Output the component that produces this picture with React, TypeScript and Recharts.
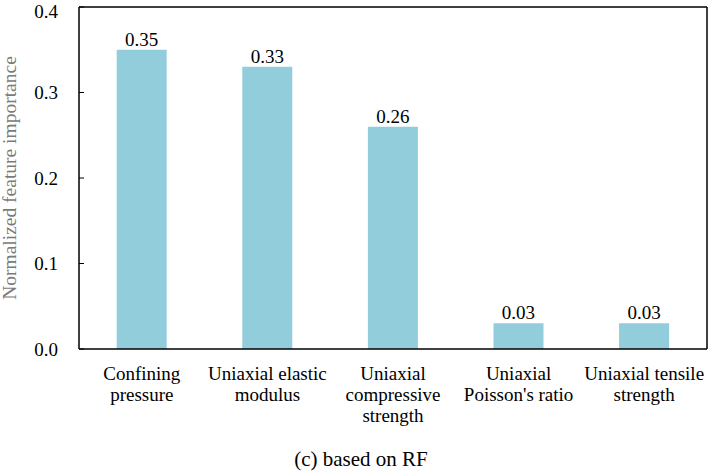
import React from 'react';
import { BarChart, Bar, XAxis, YAxis, LabelList, ReferenceLine } from 'recharts';

const categories = [
  ['Confining', 'pressure'],
  ['Uniaxial elastic', 'modulus'],
  ['Uniaxial', 'compressive', 'strength'],
  ['Uniaxial', "Poisson's ratio"],
  ['Uniaxial tensile', 'strength'],
];
const importance = [0.35, 0.33, 0.26, 0.03, 0.03];
const yTicks = [0, 0.1, 0.2, 0.3, 0.4];

const data = categories.map((lines, i) => ({ name: lines.join(' '), value: importance[i] }));

const FONT = "'Liberation Serif', 'Times New Roman', serif";
const FS = 19;
const txt = { fontFamily: FONT, fontSize: FS, fill: '#000' };

function CategoryTick(props: any) {
  const { x, y, index } = props;
  const lines = categories[index] || [];
  return (
    <g transform={`translate(${x},${y})`}>
      {lines.map((line, i) => (
        <text key={i} x={0} y={i * 21} dy={25} textAnchor="middle" style={txt}>
          {line}
        </text>
      ))}
    </g>
  );
}

export default function App() {
  return (
    <div style={{ position: 'absolute', left: 0, top: 0, width: 709, height: 475, background: '#fff' }}>
      <BarChart
        width={709}
        height={475}
        data={data}
        margin={{ top: 7, right: 0, left: 0, bottom: 0 }}
        barCategoryGap="30%"
      >
        <XAxis
          dataKey="name"
          tick={<CategoryTick />}
          tickLine={false}
          axisLine={{ stroke: '#000', strokeWidth: 1.5 }}
          interval={0}
          height={126}
          tickMargin={0}
        />
        <YAxis
          yAxisId="left"
          width={79}
          domain={[0, 0.4]}
          ticks={yTicks}
          tickFormatter={(v: number) => v.toFixed(1)}
          tick={{ style: txt } as any}
          tickSize={-5}
          tickMargin={26}
          tickLine={{ stroke: '#000' }}
          axisLine={{ stroke: '#000', strokeWidth: 1.5 }}
          label={{
            value: 'Normalized feature importance',
            angle: -90,
            position: 'insideLeft',
            offset: 9,
            style: { textAnchor: 'middle', fontSize: 19.5, fontFamily: FONT, fill: '#7a7a7a' },
          }}
        />
        <YAxis
          yAxisId="right"
          orientation="right"
          width={2}
          domain={[0, 0.4]}
          tick={false}
          tickLine={false}
          axisLine={{ stroke: '#000', strokeWidth: 1.5 }}
        />
        <ReferenceLine yAxisId="left" y={0.4} stroke="#000" strokeWidth={1.5} />
        <Bar yAxisId="left" dataKey="value" fill="#92CDDC" isAnimationActive={false}>
          <LabelList
            dataKey="value"
            position="top"
            offset={4}
            formatter={(v: number) => v.toFixed(2)}
            style={txt}
          />
        </Bar>
        <text x={361} y={466} textAnchor="middle" style={{ ...txt, fontSize: 21 }}>
          (c) based on RF
        </text>
      </BarChart>
    </div>
  );
}
